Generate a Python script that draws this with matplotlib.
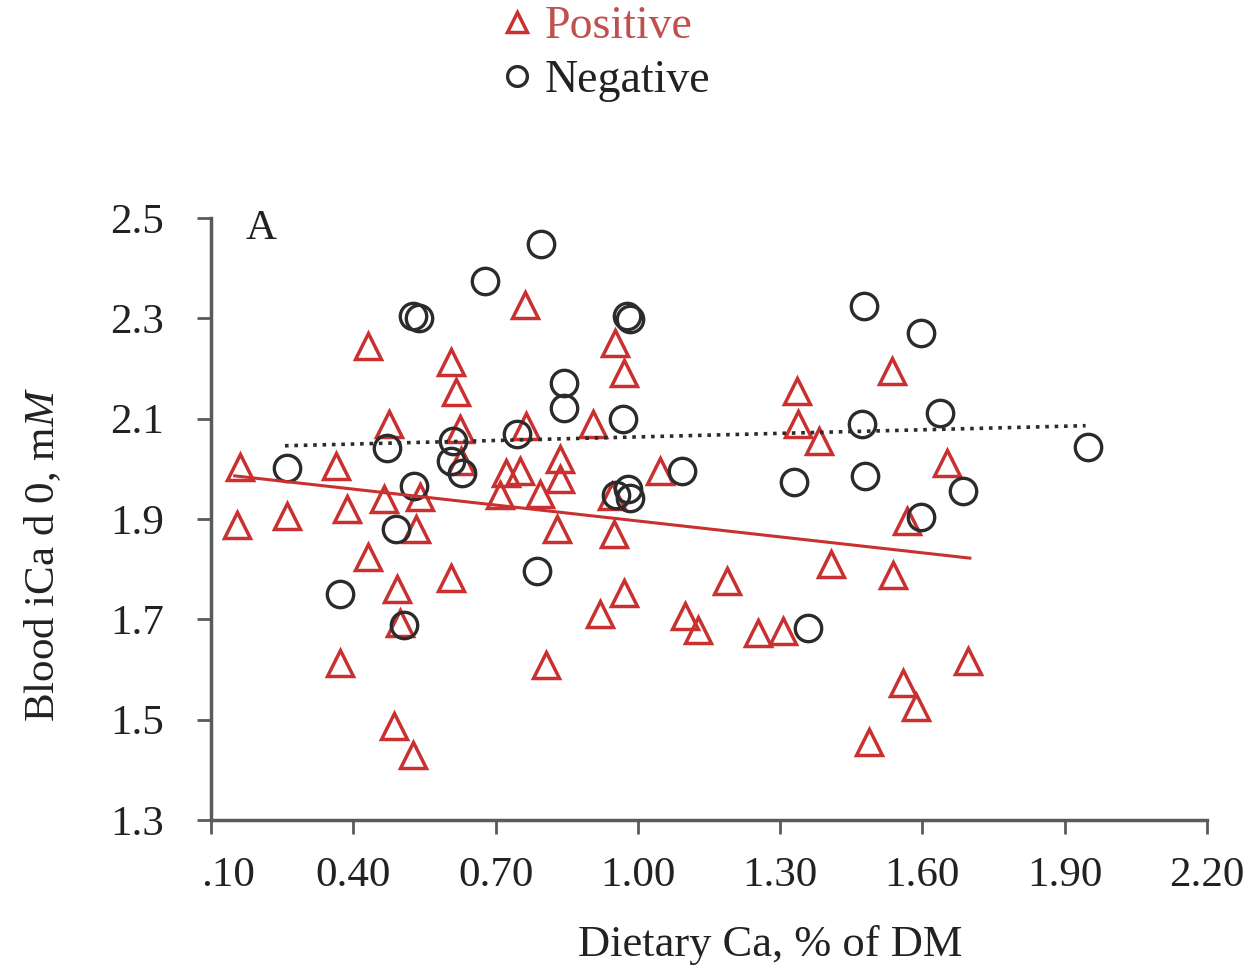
import matplotlib
matplotlib.use("Agg")
import matplotlib.pyplot as plt
import matplotlib.transforms as mtransforms
import numpy as np

plt.rcParams['font.family'] = ['Liberation Serif', 'DejaVu Serif']
plt.rcParams['mathtext.fontset'] = 'custom'
plt.rcParams['mathtext.rm'] = 'Liberation Serif'
plt.rcParams['mathtext.it'] = 'Liberation Serif:italic'

# positive group (red triangles)
pos_x = [0.161, 0.155, 0.260, 0.364, 0.372, 0.387, 0.431, 0.431, 0.476, 0.465,
         0.492, 0.499, 0.486, 0.526, 0.532, 0.541, 0.606, 0.617, 0.606, 0.625,
         0.627, 0.722, 0.710, 0.762, 0.752, 0.765, 0.794, 0.807, 0.830, 0.836,
         0.836, 0.906, 0.921, 0.952, 0.971, 0.950, 0.971, 0.946, 1.047, 1.100,
         1.127, 1.189, 1.254, 1.305, 1.336, 1.338, 1.381, 1.408, 1.488, 1.535,
         1.537, 1.558, 1.587, 1.568, 1.651, 1.697]
pos_y = [2.004, 1.888, 1.906, 2.006, 1.612, 1.920, 2.244, 1.824, 2.090, 1.940,
         1.760, 1.692, 1.488, 1.430, 1.880, 1.944, 2.212, 2.154, 1.782, 2.080,
         2.016, 1.992, 1.948, 2.326, 1.996, 2.086, 1.950, 1.608, 1.880, 2.020,
         1.980, 2.090, 1.710, 2.250, 2.192, 1.870, 1.752, 1.946, 1.996, 1.706,
         1.678, 1.776, 1.672, 1.676, 2.156, 2.090, 2.056, 1.810, 1.456, 2.196,
         1.788, 1.574, 1.526, 1.896, 2.012, 1.616]

# negative group (open circles)
neg_x = [0.260, 0.372, 0.471, 0.490, 0.507, 0.526, 0.539, 0.528, 0.611, 0.606,
         0.630, 0.678, 0.746, 0.796, 0.788, 0.845, 0.845, 0.978, 0.984, 0.969,
         0.954, 0.980, 0.984, 1.094, 1.330, 1.359, 1.476, 1.473, 1.478, 1.596,
         1.638, 1.596, 1.686, 1.950]
neg_y = [2.002, 1.750, 2.042, 1.880, 1.688, 2.304, 2.300, 1.966, 2.056, 2.016,
         1.992, 2.374, 2.070, 2.448, 1.796, 2.172, 2.122, 2.304, 2.298, 2.100,
         1.948, 1.960, 1.942, 1.996, 1.974, 1.682, 2.324, 2.090, 1.986, 2.270,
         2.112, 1.904, 1.956, 2.044]

# fitted trend lines (end points)
pos_line_x = [0.15, 1.70]
pos_line_y = [1.986, 1.822]
neg_line_x = [0.256, 1.944]
neg_line_y = [2.046, 2.086]

xticks = [0.10, 0.40, 0.70, 1.00, 1.30, 1.60, 1.90, 2.20]
xtick_labels = ['.10', '0.40', '0.70', '1.00', '1.30', '1.60', '1.90', '2.20']
yticks = [1.3, 1.5, 1.7, 1.9, 2.1, 2.3, 2.5]

red = '#c9302f'
dark = '#2b2b2b'
spine_col = '#5a5a5a'

fig = plt.figure(figsize=(12.6, 9.71), dpi=100)
ax = fig.add_axes([211 / 1260, 1 - 820 / 971, (1207 - 211) / 1260, (820 - 218) / 971])

ax.plot(pos_x, pos_y, linestyle='none', marker='^', ms=19, mfc='none',
        mec=red, mew=2.5, label='Positive')
ax.plot(neg_x, neg_y, linestyle='none', marker='o', ms=19, mfc='none',
        mec=dark, mew=2.4, label='Negative')
ax.plot(pos_line_x, pos_line_y, color=red, lw=2.2)
ax.plot(neg_line_x, neg_line_y, color=dark, lw=2.6, linestyle=(0, (1, 1.6)))

ax.set_xlim(0.10, 2.20)
ax.set_ylim(1.3, 2.5)
ax.set_xticks(xticks)
ax.set_xticklabels(xtick_labels)
ax.set_yticks(yticks)
ax.set_yticklabels(['%.1f' % v for v in yticks])

for side in ['top', 'right']:
    ax.spines[side].set_visible(False)
for side in ['left', 'bottom']:
    ax.spines[side].set_color(spine_col)
    ax.spines[side].set_linewidth(2.5)

ax.tick_params(axis='both', direction='out', length=10, width=2, color=spine_col,
               labelsize=31, labelcolor='#222222')
ax.tick_params(axis='y', pad=24)
ax.tick_params(axis='x', pad=16)

# first x label is shifted right in the original
fig.canvas.draw()
lab0 = ax.get_xticklabels()[0]
lab0.set_transform(lab0.get_transform() +
                   mtransforms.ScaledTranslation(0.17, 0, fig.dpi_scale_trans))

ax.text(0.05, 0.982, 'A', transform=ax.transAxes, ha='center', va='center',
        fontsize=31, color='#222222')

fig.text(43 / 1260, 1 - 555 / 971, 'Blood iCa d 0, m$\\mathit{M}$', rotation=90,
         ha='center', va='center', fontsize=31, color='#222222')
fig.text(770 / 1260, 1 - 945 / 971, 'Dietary Ca, % of DM', ha='center',
         va='center', fontsize=32, color='#222222')

leg = fig.legend(loc='center', bbox_to_anchor=(607 / 1260, 1 - 54 / 971),
                 frameon=False, fontsize=33, handlelength=0.6, handletextpad=0.3,
                 labelspacing=0.25, markerscale=0.75, borderaxespad=0)
leg.get_texts()[0].set_color('#c0504d')
leg.get_texts()[1].set_color('#222222')

fig.savefig('out.png', dpi=100)
